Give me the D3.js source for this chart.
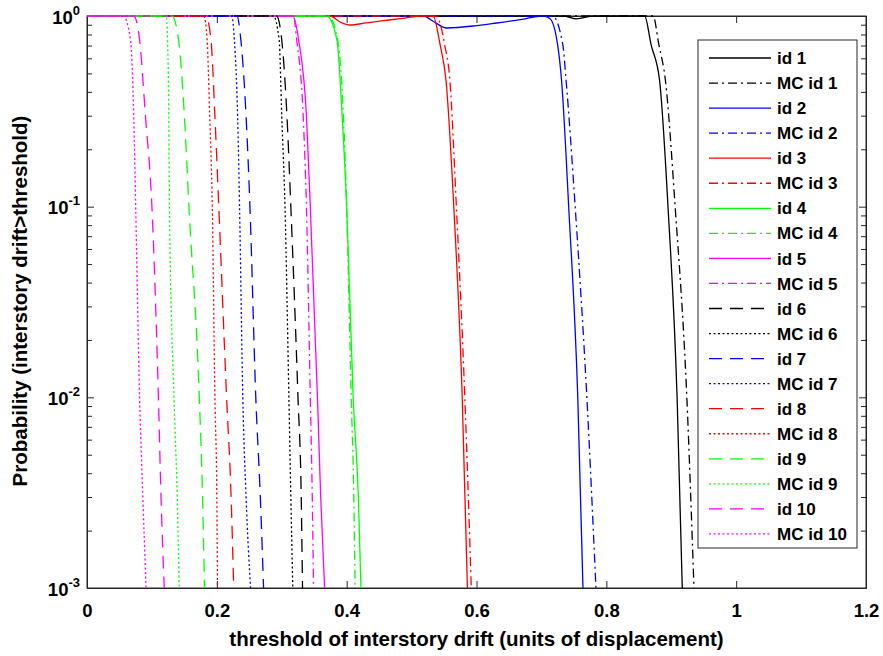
<!DOCTYPE html>
<html lang="en">

<head>
  <meta charset="UTF-8">
  <title>Probability of interstory drift</title>
  <script src="https://d3js.org/d3.v7.min.js"></script>
  <style>
    body { margin: 0; background: #fff; }
    svg text { font-family: "Liberation Sans", Arial, Helvetica, sans-serif; font-weight: bold; fill: #000; }
  </style>
</head>

<body>
  <script>
    // curves: [threshold, probability]
    const id1 = [[0, 1], [0.733, 1], [0.754, 0.965], [0.78, 1], [0.859, 1], [0.869, 0.705], [0.882, 0.46], [0.895, 0.1], [0.909, 0.01], [0.917, 0.001]];
    const mcId1 = [[0, 1], [0.872, 1], [0.881, 0.705], [0.891, 0.46], [0.906, 0.1], [0.924, 0.01], [0.935, 0.001]];
    const id2 = [[0, 1], [0.518, 1], [0.535, 0.93], [0.554, 0.865], [0.6, 0.89], [0.631, 0.919], [0.67, 0.96], [0.702, 1], [0.713, 0.97], [0.725, 0.705], [0.731, 0.46], [0.742, 0.1], [0.756, 0.01], [0.764, 0.001]];
    const mcId2 = [[0, 1], [0.717, 1], [0.733, 0.705], [0.738, 0.46], [0.752, 0.1], [0.770, 0.01], [0.784, 0.001]];
    const id3 = [[0, 1], [0.374, 1], [0.39, 0.93], [0.405, 0.897], [0.43, 0.92], [0.456, 0.945], [0.49, 0.975], [0.513, 1], [0.533, 1], [0.544, 0.705], [0.553, 0.46], [0.565, 0.1], [0.578, 0.01], [0.586, 0.001]];
    const mcId3 = [[0, 1], [0.538, 1], [0.551, 0.705], [0.559, 0.46], [0.569, 0.1], [0.582, 0.01], [0.592, 0.001]];
    const id4 = [[0, 1], [0.369, 1], [0.385, 0.75], [0.393, 0.3], [0.400, 0.1], [0.410, 0.01], [0.418, 0.003], [0.422, 0.001]];
    const mcId4 = [[0, 1], [0.372, 1], [0.386, 0.75], [0.395, 0.3], [0.400, 0.1], [0.407, 0.01], [0.411, 0.003], [0.413, 0.001]];
    const id5 = [[0, 1], [0.317, 1], [0.326, 0.75], [0.338, 0.3], [0.344, 0.1], [0.355, 0.01], [0.360, 0.003], [0.366, 0.001]];
    const mcId5 = [[0, 1], [0.318, 1], [0.323, 0.75], [0.333, 0.3], [0.338, 0.1], [0.344, 0.01], [0.347, 0.003], [0.349, 0.001]];
    const id6 = [[0, 1], [0.292, 1], [0.300, 0.75], [0.308, 0.3], [0.314, 0.1], [0.325, 0.01], [0.330, 0.003], [0.332, 0.001]];
    const mcId6 = [[0, 1], [0.287, 1], [0.296, 0.75], [0.300, 0.3], [0.305, 0.1], [0.311, 0.01], [0.314, 0.003], [0.317, 0.001]];
    const id7 = [[0, 1], [0.231, 1], [0.237, 0.75], [0.245, 0.3], [0.251, 0.1], [0.260, 0.01], [0.267, 0.003], [0.272, 0.001]];
    const mcId7 = [[0, 1], [0.223, 1], [0.227, 0.75], [0.232, 0.3], [0.235, 0.1], [0.240, 0.01], [0.245, 0.003], [0.252, 0.001]];
    const id8 = [[0, 1], [0.183, 1], [0.191, 0.75], [0.197, 0.3], [0.203, 0.1], [0.215, 0.01], [0.222, 0.003], [0.226, 0.001]];
    const mcId8 = [[0, 1], [0.180, 1], [0.185, 0.75], [0.189, 0.3], [0.193, 0.1], [0.197, 0.01], [0.200, 0.003], [0.201, 0.001]];
    const id9 = [[0, 1], [0.131, 1], [0.141, 0.75], [0.150, 0.3], [0.157, 0.1], [0.173, 0.01], [0.178, 0.003], [0.181, 0.001]];
    const mcId9 = [[0, 1], [0.122, 1], [0.124, 0.75], [0.126, 0.3], [0.127, 0.1], [0.134, 0.01], [0.139, 0.003], [0.142, 0.001]];
    const id10 = [[0, 1], [0.072, 1], [0.081, 0.75], [0.090, 0.3], [0.100, 0.1], [0.110, 0.01], [0.114, 0.003], [0.119, 0.001]];
    const mcId10 = [[0, 1], [0.056, 1], [0.067, 0.75], [0.072, 0.3], [0.075, 0.1], [0.081, 0.01], [0.086, 0.003], [0.091, 0.001]];

    const seriesNames = ['id 1', 'MC id 1', 'id 2', 'MC id 2', 'id 3', 'MC id 3', 'id 4', 'MC id 4', 'id 5', 'MC id 5',
      'id 6', 'MC id 6', 'id 7', 'MC id 7', 'id 8', 'MC id 8', 'id 9', 'MC id 9', 'id 10', 'MC id 10'];
    const seriesData = [id1, mcId1, id2, mcId2, id3, mcId3, id4, mcId4, id5, mcId5,
      id6, mcId6, id7, mcId7, id8, mcId8, id9, mcId9, id10, mcId10];
    const xTicks = [0, 0.2, 0.4, 0.6, 0.8, 1, 1.2];
    const yTicks = [1e-3, 1e-2, 1e-1, 1];

    // styles
    const colors = ['#000000', '#0000ff', '#ff0000', '#00ff00', '#ff00ff'];
    const dashSolid = null, dashDashDot = '9,4,2,4', dashDashed = '13,8', dashDotted = '2,2.5';
    function styleOf(i) {
      const idx = Math.floor(i / 2);
      const mc = i % 2 === 1;
      const color = colors[idx % 5];
      let dash;
      if (idx < 5) dash = mc ? dashDashDot : dashSolid;
      else dash = mc ? dashDotted : dashDashed;
      return { color, dash };
    }

    const W = 883, H = 656;
    const mLeft = 87, mRight = 866, mTop = 16, mBottom = 588;
    const axisColor = '#262626';

    const svg = d3.select('body').append('svg')
      .attr('width', W).attr('height', H);

    const x = d3.scaleLinear().domain([0, 1.2]).range([mLeft, mRight]);
    const y = d3.scaleLog().domain([1e-3, 1]).range([mBottom, mTop]);

    let minor = [];
    for (let e = -3; e < 0; e++) for (let m = 2; m <= 9; m++) minor.push(m * Math.pow(10, e));

    // axes
    const gx = svg.append('g').attr('transform', `translate(0,${mBottom})`)
      .call(d3.axisBottom(x).tickValues(xTicks).tickSize(-7).tickSizeOuter(0).tickPadding(16)
        .tickFormat(d => d3.format('~g')(d)));
    svg.append('g').attr('transform', `translate(0,${mTop})`)
      .call(d3.axisTop(x).tickValues(xTicks).tickSize(-7).tickSizeOuter(0).tickFormat(''));

    const gy = svg.append('g').attr('transform', `translate(${mLeft},0)`)
      .call(d3.axisLeft(y).tickValues(yTicks).tickSize(-7).tickSizeOuter(0).tickFormat(''));
    svg.append('g').attr('transform', `translate(${mLeft},0)`)
      .call(d3.axisLeft(y).tickValues(minor).tickSize(-5).tickSizeOuter(0).tickFormat(''));
    svg.append('g').attr('transform', `translate(${mRight},0)`)
      .call(d3.axisRight(y).tickValues(yTicks).tickSize(-7).tickSizeOuter(0).tickFormat(''));
    svg.append('g').attr('transform', `translate(${mRight},0)`)
      .call(d3.axisRight(y).tickValues(minor).tickSize(-5).tickSizeOuter(0).tickFormat(''));

    svg.selectAll('.domain, .tick line').attr('stroke', axisColor).attr('stroke-width', 1);
    gx.selectAll('text').attr('font-size', 18.5).attr('fill', '#000');
    gy.selectAll('.tick text').remove();

    // y tick labels as 10^n
    gy.selectAll('.tick').each(function (d) {
      const t = d3.select(this).append('text')
        .attr('x', -7).attr('y', 7).attr('text-anchor', 'end')
        .attr('font-size', 18.5).attr('fill', '#000');
      t.append('tspan').text('10');
      t.append('tspan').attr('dy', -9).attr('font-size', 13).text(String(Math.round(Math.log10(d))));
    });

    // frame
    svg.append('rect').attr('x', mLeft).attr('y', mTop)
      .attr('width', mRight - mLeft).attr('height', mBottom - mTop)
      .attr('fill', 'none').attr('stroke', axisColor).attr('stroke-width', 1);

    // curves
    svg.append('clipPath').attr('id', 'plotclip').append('rect')
      .attr('x', mLeft).attr('y', mTop - 1.5).attr('width', mRight - mLeft).attr('height', mBottom - mTop + 1.5);

    const line = d3.line().x(d => x(d[0])).y(d => y(d[1])).curve(d3.curveMonotoneX);
    const plot = svg.append('g').attr('clip-path', 'url(#plotclip)');
    seriesData.forEach((data, i) => {
      const s = styleOf(i);
      plot.append('path').datum(data)
        .attr('d', line)
        .attr('fill', 'none')
        .attr('stroke', s.color)
        .attr('stroke-width', 1.3)
        .attr('stroke-dasharray', s.dash);
    });

    // axis labels
    svg.append('text').attr('x', (mLeft + mRight) / 2).attr('y', 646)
      .attr('text-anchor', 'middle').attr('font-size', 20.5)
      .text('threshold of interstory drift (units of displacement)');
    svg.append('text').attr('transform', 'translate(27,301) rotate(-90)')
      .attr('text-anchor', 'middle').attr('font-size', 20.5)
      .text('Probability (interstory drift>threshold)');

    // legend
    const lg = svg.append('g');
    lg.append('rect').attr('x', 698).attr('y', 40).attr('width', 159).attr('height', 508)
      .attr('fill', '#fff').attr('stroke', axisColor).attr('stroke-width', 1);
    seriesNames.forEach((name, i) => {
      const s = styleOf(i);
      const yy = 58 + i * 25.05;
      lg.append('line').attr('x1', 709).attr('x2', 771).attr('y1', yy).attr('y2', yy)
        .attr('stroke', s.color).attr('stroke-width', 1.3).attr('stroke-dasharray', s.dash);
      lg.append('text').attr('x', 777).attr('y', yy).attr('dy', '0.36em')
        .attr('font-size', 17).text(name);
    });
  </script>
</body>

</html>
